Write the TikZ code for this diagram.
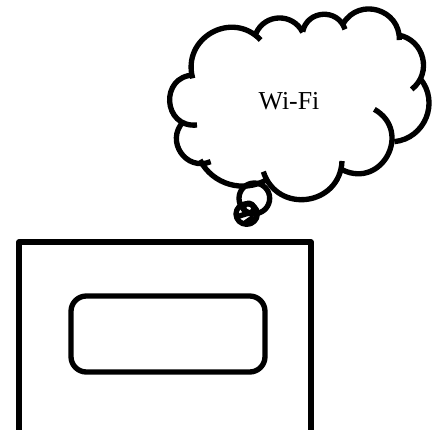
\documentclass[tikz,border=0pt]{standalone}
\usepackage{fontspec}
\setmainfont{Liberation Serif}
\tikzset{
  heavy/.style={draw=black,line width=4pt,line join=round},
  lobe/.style={heavy,line cap=butt},
}
\newcommand{\lobearc}[3]{%
  \pgfmathsetmacro{\lobeloose}{(2/3)*tan(#3/2)/sin(#3)/0.3915}%
  \draw[lobe] #1 to[bend left=#3,looseness=\lobeloose] #2;}
\begin{document}
\begin{tikzpicture}[x=0.75pt,y=-0.75pt]
\useasboundingbox (0,0) rectangle (432,429);
\fill[white] (0,0) rectangle (432,429);
\begin{scope}
\clip (0,0) rectangle (432,429);
\draw[heavy] (19,440) -- (19,242) -- (311,242) -- (311,440);
\end{scope}
\draw[heavy,rounded corners=11.5pt] (71,296) rectangle (265,372);
\begin{scope}[shift={(150,0)},x=0.25pt,y=-0.25pt]
\lobearc{(128,235)}{(332,120)}{76}
\lobearc{(318,100)}{(458,97)}{65}
\lobearc{(458,95)}{(585,88)}{75}
\lobearc{(580,70)}{(748,120)}{75}
\lobearc{(745,105)}{(785,268)}{66}
\lobearc{(810,235)}{(733,425)}{62}
\lobearc{(673,328)}{(578,510)}{88}
\lobearc{(576,483)}{(340,515)}{80}
\lobearc{(352,538)}{(150,480)}{47}
\lobearc{(182,485)}{(100,365)}{78}
\lobearc{(141,375)}{(132,225)}{92}
\draw[heavy] (313,595) circle[radius=46];
\draw[heavy] (290,642) ellipse[x radius=32,y radius=31];
\draw[heavy] (296,625) circle[radius=16];
\draw[heavy] (262,650) -- (318,632);
\draw[heavy] (284,670) -- (312,650);
\node[font=\fontsize{19.4pt}{22pt}\selectfont,text=black,inner sep=0pt] (wifi) at (417,302) {Wi-Fi};
\end{scope}
\end{tikzpicture}
\end{document}
